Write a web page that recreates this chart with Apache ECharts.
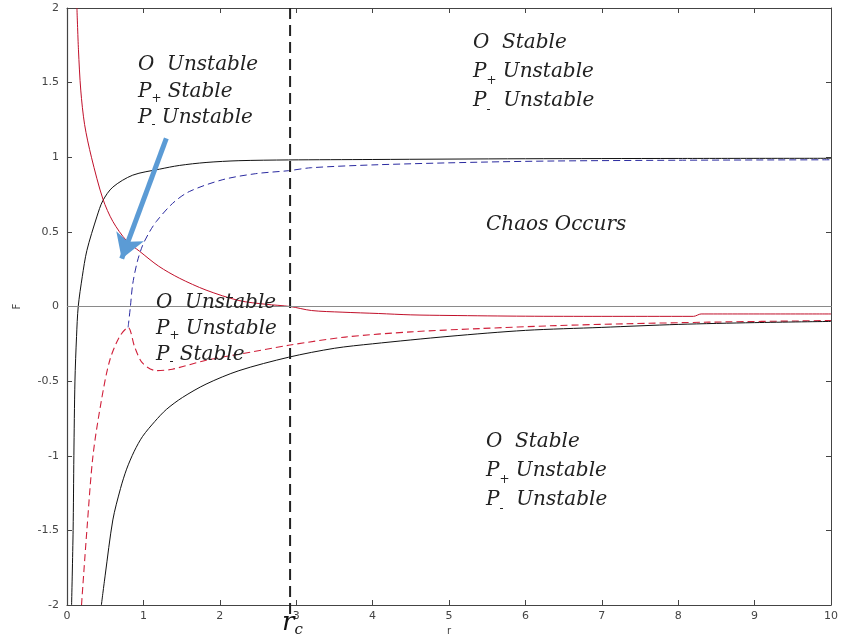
<!DOCTYPE html>
<html><head><meta charset="utf-8">
<script src="https://cdn.jsdelivr.net/npm/echarts@6/dist/echarts.min.js"></script>
<style>html,body{margin:0;padding:0;background:#fff}#c{width:841px;height:643px}</style>
</head><body><div id="c"></div>
<script>
// ---- data (r, F) ----
const rc = 2.92;
const xTicks = [0,1,2,3,4,5,6,7,8,9,10];
const yTicks = [-2,-1.5,-1,-0.5,0,0.5,1,1.5,2];

const redSolid = [[0.13,2.0],[0.15,1.72],[0.18,1.45],[0.23,1.22],[0.32,1.0],[0.47,0.72],[0.6,0.57],[0.78,0.44],[0.95,0.37],[1.2,0.27],[1.47,0.19],[1.82,0.11],[2.25,0.04],[2.6,0.015],[2.92,0.0],[3.2,-0.027],[3.6,-0.038],[4.08,-0.047],[4.5,-0.056],[5,-0.06],[6,-0.065],[7,-0.066],[8.2,-0.066],[8.3,-0.05],[10,-0.05]];
const blackUpper = [[0.06,-2],[0.08,-1.5],[0.09,-1],[0.104,-0.5],[0.125,-0.2],[0.147,0],[0.2,0.2],[0.26,0.375],[0.39,0.6],[0.47,0.71],[0.6,0.8],[0.86,0.88],[1.21,0.92],[1.47,0.945],[1.82,0.965],[2.25,0.977],[2.9,0.982],[4,0.985],[6,0.99],[8,0.992],[10,0.993]];
const blueDashed = [[0.8,-0.14],[0.83,0.0],[0.86,0.15],[0.92,0.3],[0.99,0.41],[1.08,0.5],[1.17,0.57],[1.38,0.69],[1.6,0.77],[2.04,0.85],[2.47,0.89],[2.9,0.91],[3.2,0.93],[4.08,0.95],[5.4,0.967],[6.4,0.975],[8,0.98],[10,0.983]];
const redDashed = [[0.19,-2],[0.26,-1.5],[0.34,-1.0],[0.45,-0.63],[0.56,-0.36],[0.69,-0.2],[0.8,-0.14],[0.885,-0.27],[0.99,-0.38],[1.17,-0.43],[1.38,-0.42],[1.82,-0.36],[2.25,-0.32],[2.9,-0.26],[3.64,-0.205],[4.5,-0.17],[5.4,-0.148],[6.4,-0.128],[7.3,-0.116],[8.4,-0.105],[10,-0.094]];
const blackLower = [[0.45,-2],[0.5,-1.8],[0.6,-1.43],[0.7,-1.22],[0.78,-1.09],[0.88,-0.97],[0.99,-0.87],[1.15,-0.77],[1.3,-0.69],[1.51,-0.61],[1.82,-0.52],[2.25,-0.43],[2.9,-0.34],[3.5,-0.28],[4,-0.25],[5,-0.2],[6,-0.16],[7,-0.14],[8,-0.12],[9,-0.108],[10,-0.1]];
const arrowFrom = [1.30, 1.126];
const arrowTo = [0.716, 0.32];

const labels = [
  {x:138, y:55, lh:26.5, lines:[['O','','  Unstable'],['P','+',' Stable'],['P','-',' Unstable']]},
  {x:473, y:33, lh:29, lines:[['O','','  Stable'],['P','+',' Unstable'],['P','-','  Unstable']]},
  {x:486, y:215, lh:26, lines:[['Chaos Occurs','','']]},
  {x:156, y:293, lh:26, lines:[['O','','  Unstable'],['P','+',' Unstable'],['P','-',' Stable']]},
  {x:486, y:432, lh:29, lines:[['O','','  Stable'],['P','+',' Unstable'],['P','-','  Unstable']]}
];

const chart = echarts.init(document.getElementById('c'));
const serif = '"DejaVu Serif", "Liberation Serif", serif';
function richFor(lh){
  return {
    t:{fontFamily:serif, fontStyle:'italic', fontSize:20, lineHeight:lh, fill:'#222', verticalAlign:'middle'},
    s:{fontFamily:serif, fontStyle:'normal', fontSize:12, lineHeight:lh, fill:'#222', verticalAlign:'bottom'}
  };
}
const graphics = labels.map(b => ({
  type:'text', left:b.x, top:b.y, z:50,
  style:{
    text: b.lines.map(l => '{t|'+l[0]+'}' + (l[1] ? '{s|'+l[1]+'}' : '') + (l[2] ? '{t|'+l[2]+'}' : '')).join('\n'),
    rich: richFor(b.lh)
  }
}));
graphics.push({
  type:'text', left:282, top:610, z:50,
  style:{text:'{r|r}{c|c}', rich:{
    r:{fontFamily:serif, fontStyle:'italic', fontSize:26, fill:'#111', lineHeight:30, verticalAlign:'middle'},
    c:{fontFamily:serif, fontStyle:'italic', fontSize:15, fill:'#111', lineHeight:30, verticalAlign:'bottom'}
  }}
});

const axisFont = {fontFamily:'"DejaVu Sans", sans-serif', fontSize:11, color:'#444'};
function line(data, color, type, width){
  return {type:'line', data, showSymbol:false, smooth:0.3, silent:true,
    lineStyle:{color, width:width||1, type:type||'solid'}, z:3};
}

chart.setOption({
  animation:false,
  grid:{left:67, right:3, top:8, bottom:38},
  xAxis:[
    {type:'value', min:0, max:10, interval:1, position:'bottom',
     name:'r', nameLocation:'middle', nameGap:21, nameTextStyle:{fontFamily:'"DejaVu Sans", sans-serif', fontSize:10, color:'#444'},
     axisLine:{onZero:false, lineStyle:{color:'#444', width:1.2}},
     axisTick:{inside:true, length:5, lineStyle:{color:'#444'}},
     axisLabel:Object.assign({margin:6}, axisFont), splitLine:{show:false}},
    {type:'value', min:0, max:10, interval:1, position:'top',
     axisLine:{onZero:false, lineStyle:{color:'#444', width:1}},
     axisTick:{inside:true, length:5, lineStyle:{color:'#444'}},
     axisLabel:{show:false}, splitLine:{show:false}}
  ],
  yAxis:[
    {type:'value', min:-2, max:2, interval:0.5, position:'left',
     name:'F', nameLocation:'middle', nameGap:45, nameTextStyle:{fontFamily:'"DejaVu Sans", sans-serif', fontSize:10, color:'#444'},
     axisLine:{onZero:false, lineStyle:{color:'#444', width:1.2}},
     axisTick:{inside:true, length:5, lineStyle:{color:'#444'}},
     axisLabel:Object.assign({margin:8}, axisFont), splitLine:{show:false}},
    {type:'value', min:-2, max:2, interval:0.5, position:'right',
     axisLine:{onZero:false, lineStyle:{color:'#444', width:1}},
     axisTick:{inside:true, length:5, lineStyle:{color:'#444'}},
     axisLabel:{show:false}, splitLine:{show:false}}
  ],
  graphic: graphics,
  series:[
    Object.assign(line(blackUpper,'#111','solid',1), {
      markLine:{silent:true, symbol:['none','none'], label:{show:false},
        lineStyle:{color:'#8a8a8a', width:1, type:'solid'}, data:[{yAxis:0}]}
    }),
    line(redSolid,'#c0102a','solid',1),
    line(blueDashed,'#2a2aa0',[7,4],1),
    line(redDashed,'#d0203a',[7,4],1.1),
    line(blackLower,'#111','solid',1),
    {type:'line', data:[[rc,2],[rc,-2.07]], showSymbol:false, clip:false, silent:true, z:4,
     lineStyle:{color:'#222', width:2, type:[11,6]}},
    {type:'line', data:[], silent:true, z:10,
     markLine:{silent:true, symbol:['none','arrow'], symbolSize:[22,24], label:{show:false}, z:10,
       lineStyle:{color:'#5b9bd5', width:5, type:'solid', opacity:1},
       data:[[{coord:arrowFrom},{coord:arrowTo}]]}}
  ]
});
</script></body></html>
